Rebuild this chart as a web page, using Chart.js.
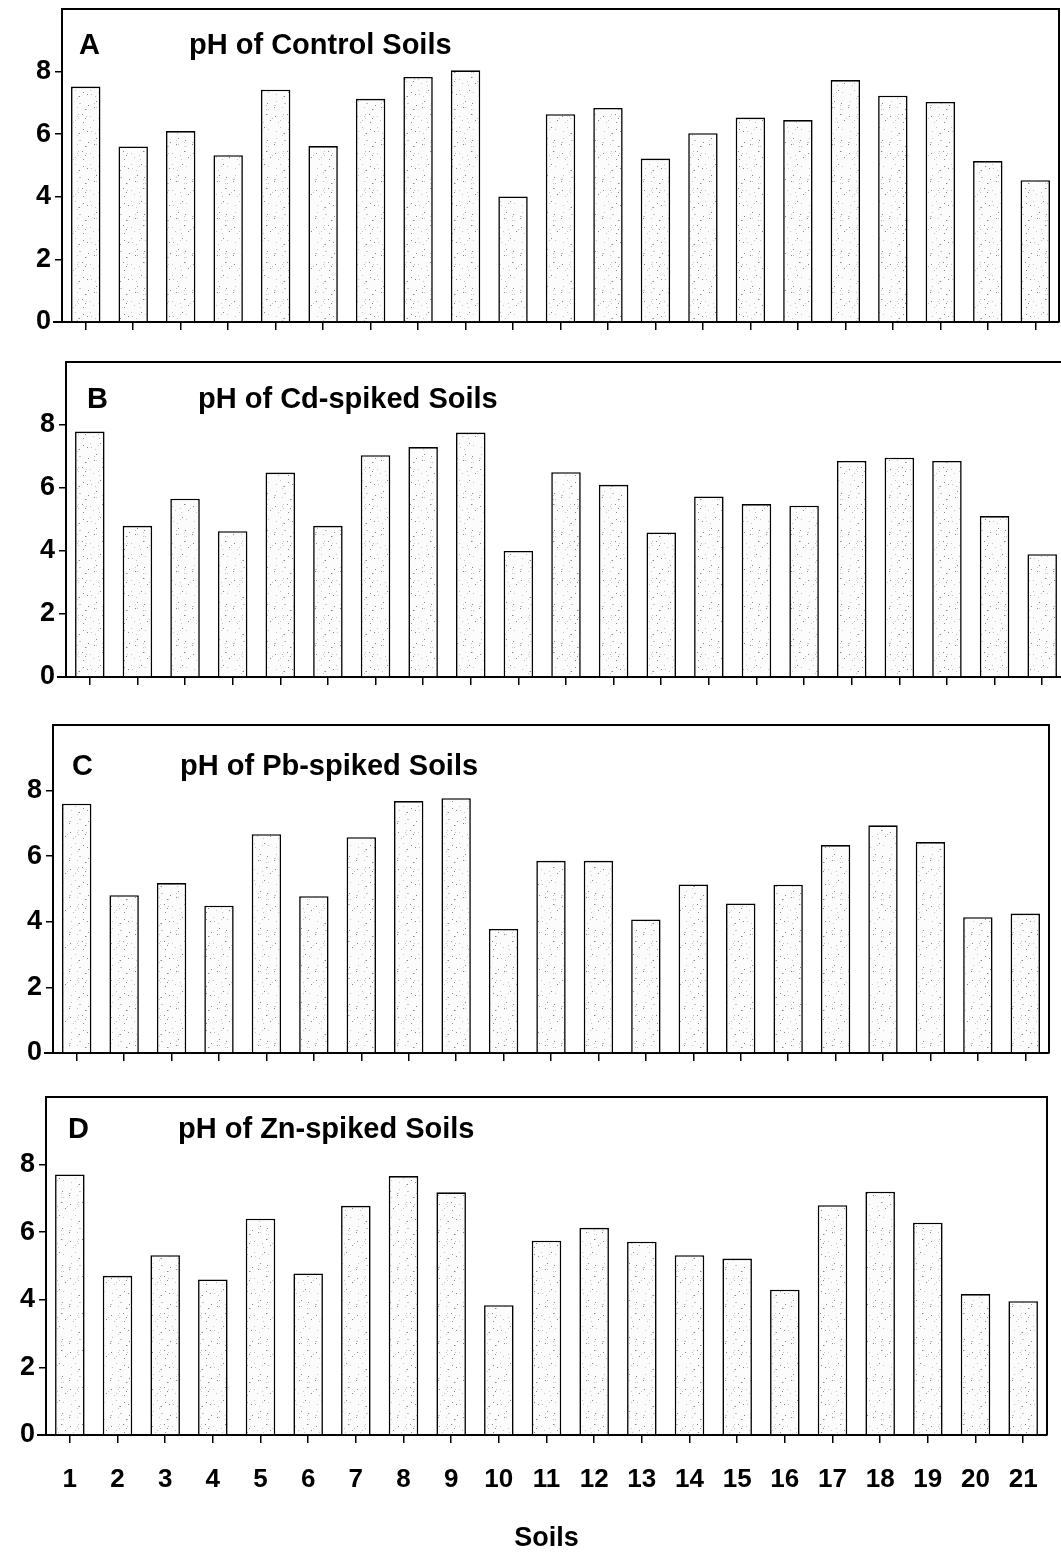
<!DOCTYPE html>
<html>
<head>
<meta charset="utf-8">
<script src="https://cdn.jsdelivr.net/npm/chart.js@4.4.1/dist/chart.umd.min.js"></script>
<style>
  html, body { margin: 0; padding: 0; background: #fff; overflow: hidden; }
  #wrap { position: relative; width: 1061px; height: 1558px; }
  canvas { position: absolute; left: 0; }
</style>
</head>
<body>
<div id="wrap">
  <canvas id="chartA"></canvas>
  <canvas id="chartB"></canvas>
  <canvas id="chartC"></canvas>
  <canvas id="chartD"></canvas>
</div>
<script>
// soils 1..21
var soils = ['1','2','3','4','5','6','7','8','9','10','11','12','13','14','15','16','17','18','19','20','21'];
var yTicks = [0, 2, 4, 6, 8];

// pH values
var phControl = [7.52, 5.61, 6.10, 5.33, 7.42, 5.62, 7.13, 7.83, 8.04, 4.01, 6.64, 6.84, 5.22, 6.03, 6.53, 6.45, 7.73, 7.23, 7.03, 5.14, 4.53];
var phCd      = [7.79, 4.80, 5.66, 4.63, 6.49, 4.80, 7.04, 7.30, 7.76, 4.00, 6.50, 6.10, 4.59, 5.73, 5.49, 5.44, 6.86, 6.96, 6.86, 5.11, 3.90];
var phPb      = [7.60, 4.81, 5.18, 4.49, 6.67, 4.78, 6.58, 7.68, 7.77, 3.78, 5.86, 5.86, 4.07, 5.14, 4.56, 5.13, 6.34, 6.94, 6.43, 4.14, 4.25];
var phZn      = [7.71, 4.71, 5.32, 4.60, 6.40, 4.78, 6.78, 7.66, 7.18, 3.84, 5.75, 6.13, 5.72, 5.32, 5.22, 4.30, 6.80, 7.20, 6.28, 4.17, 3.96];

var FONT = "'Liberation Sans', Arial, Helvetica, sans-serif";
Chart.defaults.font.family = FONT;
Chart.defaults.color = '#000';

// light stipple like the scanned bars
function makeStipple(){
  var c = document.createElement('canvas');
  c.width = 41; c.height = 37;
  var g = c.getContext('2d');
  g.fillStyle = '#fcfcfc';
  g.fillRect(0, 0, c.width, c.height);
  for(var i = 0; i < 50; i++){
    var x = (i * 29 + (i * i) % 13) % c.width;
    var y = (i * 17 + (i * 7) % 11) % c.height;
    g.fillStyle = (i % 3 == 0) ? '#888' : '#c4c4c4';
    g.fillRect(x, y, 1, 1);
  }
  return g.createPattern(c, 'repeat');
}
var stipple = makeStipple();

// frame (top + right), x-axis stub to the left, panel letter and title
var framePlugin = {
  id: 'frame',
  afterDraw: function(chart, args, opts){
    var a = chart.chartArea, ctx = chart.ctx;
    ctx.save();
    ctx.strokeStyle = '#000';
    ctx.lineWidth = 2;
    ctx.beginPath();
    ctx.moveTo(a.left, a.bottom);
    ctx.lineTo(a.left, a.top);
    ctx.lineTo(a.right, a.top);
    ctx.lineTo(a.right, a.bottom);
    ctx.moveTo(a.left - 9, a.bottom);
    ctx.lineTo(a.left, a.bottom);
    ctx.stroke();
    ctx.fillStyle = '#000';
    ctx.textBaseline = 'middle';
    ctx.textAlign = 'left';
    ctx.font = 'bold 29px ' + FONT;
    ctx.fillText(opts.letter, a.left + opts.letterX, a.top + opts.textY);
    ctx.fillText(opts.title, a.left + opts.titleX, a.top + opts.textY);
    ctx.restore();
  }
};

function makePanel(id, data, p){
  var canvas = document.getElementById(id);
  var canvasW = p.canvasW || 1061;
  var canvasH = (p.bottom - p.top) + 6 + p.xHeight;
  canvas.width = canvasW;
  canvas.height = canvasH;
  canvas.style.width = canvasW + 'px';
  canvas.style.height = canvasH + 'px';
  canvas.style.top = (p.top - 6) + 'px';

  new Chart(canvas, {
    type: 'bar',
    data: {
      labels: soils,
      datasets: [{
        data: data,
        backgroundColor: stipple,
        borderColor: '#000',
        borderWidth: 1.6,
        barPercentage: 0.62,
        categoryPercentage: 1
      }]
    },
    options: {
      responsive: false,
      animation: false,
      devicePixelRatio: 1,
      layout: { padding: { left: 0, right: canvasW - p.right, top: 6, bottom: 0 } },
      plugins: {
        legend: { display: false },
        tooltip: { enabled: false },
        frame: { letter: p.letter, title: p.title, letterX: p.letterX, titleX: p.titleX, textY: p.textY }
      },
      scales: {
        x: {
          offset: true,
          grid: { offset: false, drawOnChartArea: false, drawTicks: true, tickLength: 8, color: '#000', lineWidth: 1.5 },
          border: { display: true, color: '#000', width: 2 },
          ticks: { display: !!p.showX, font: { size: 26, weight: 'bold', lineHeight: 1.2 }, padding: 21, maxRotation: 0, autoSkip: false },
          title: { display: !!p.showX, text: 'Soils', font: { size: 27, weight: 'bold', lineHeight: 1.2 }, padding: { top: 0, bottom: 3 } },
          afterFit: function(s){ s.height = p.xHeight; s.paddingLeft = 0; s.paddingRight = 0; }
        },
        y: {
          min: 0,
          max: 10,
          afterBuildTicks: function(s){ s.ticks = yTicks.map(function(v){ return { value: v }; }); },
          grid: { drawOnChartArea: false, drawTicks: true, tickLength: 7, color: '#000', lineWidth: 1.5 },
          border: { display: true, color: '#000', width: 2 },
          ticks: { font: { size: 27, weight: 'bold' }, padding: 4 },
          afterFit: function(s){ s.width = p.left; s.paddingTop = 0; s.paddingBottom = 0; }
        }
      }
    },
    plugins: [framePlugin]
  });
}

makePanel('chartA', phControl, { left: 62, right: 1059, top: 9, bottom: 322, xHeight: 14,
  letter: 'A', title: 'pH of Control Soils', letterX: 17, titleX: 127, textY: 37 });
makePanel('chartB', phCd, { left: 66, right: 1066, top: 362, bottom: 677, xHeight: 14, canvasW: 1072,
  letter: 'B', title: 'pH of Cd-spiked Soils', letterX: 21, titleX: 132, textY: 38 });
makePanel('chartC', phPb, { left: 53, right: 1049, top: 725, bottom: 1053, xHeight: 14,
  letter: 'C', title: 'pH of Pb-spiked Soils', letterX: 19, titleX: 127, textY: 42 });
makePanel('chartD', phZn, { left: 46, right: 1047, top: 1097, bottom: 1435, xHeight: 123, showX: true,
  letter: 'D', title: 'pH of Zn-spiked Soils', letterX: 22, titleX: 132, textY: 33 });
</script>
</body>
</html>
